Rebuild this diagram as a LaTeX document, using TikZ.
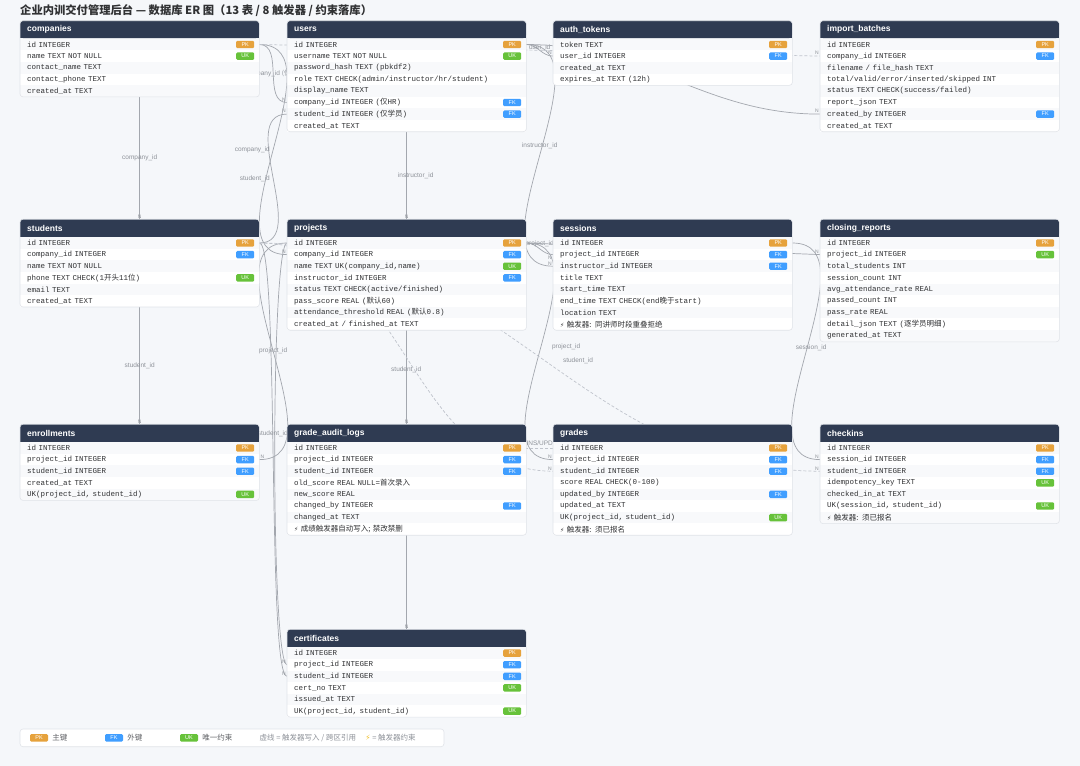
\documentclass[tikz,border=0pt]{standalone}
\usepackage{fontspec}
\setmainfont{Noto Sans CJK SC}
\setsansfont{Liberation Sans}
\setmonofont{Liberation Mono}
\newfontfamily\symfont{DejaVu Sans}
\usetikzlibrary{positioning, calc, backgrounds}

\definecolor{pagebg}{HTML}{F5F7FA}
\definecolor{headbg}{HTML}{2F3B52}
\definecolor{rowgray}{HTML}{F8F9FB}
\definecolor{framec}{HTML}{E1E4E9}
\definecolor{pkc}{HTML}{E6A23C}
\definecolor{fkc}{HTML}{409EFF}
\definecolor{ukc}{HTML}{67C23A}
\definecolor{linec}{HTML}{A3A7AE}
\definecolor{dashc}{HTML}{C0C4CC}
\definecolor{lblc}{HTML}{8E9299}
\definecolor{txtc}{HTML}{303133}
\definecolor{notec}{HTML}{606266}
\definecolor{boltc}{HTML}{F2C230}

\pgfdeclarelayer{paper}
\pgfsetlayers{paper,background,main}

\tikzset{
  tblhead/.style={anchor=north west, text=white, font=\sffamily\bfseries\fontsize{8.5}{10}\selectfont,
    minimum height=17.4pt, text width=225pt, inner xsep=7pt, inner ysep=0pt, align=left},
  fieldrow/.style={anchor=north west, minimum height=11.6pt, text width=225pt, inner xsep=7pt,
    inner ysep=0pt, align=left, text=txtc, font=\ttfamily\fontsize{7.5}{9}\selectfont},
  badge/.style={anchor=east, minimum width=18pt, minimum height=7.4pt, inner sep=0pt,
    rounded corners=1.2pt, text=white, font=\sffamily\fontsize{5.5}{6}\selectfont},
  tblframe/.style={draw=framec, line width=0.6pt, rounded corners=3pt},
  fkline/.style={draw=linec, line width=0.7pt},
  trigline/.style={draw=dashc, line width=0.7pt, dash pattern=on 3pt off 2pt},
  rel/.style={font=\sffamily\fontsize{6.5}{7.5}\selectfont, text=lblc, inner sep=1pt},
  cardN/.style={font=\sffamily\fontsize{5}{6}\selectfont, text=lblc, inner sep=0.8pt},
  lgkey/.style={font=\rmfamily\fontsize{7.5}{9}\selectfont, text=notec, inner sep=0pt},
  lgnote/.style={font=\rmfamily\fontsize{7.5}{9}\selectfont, text=lblc, inner sep=0pt},
}

% CJK inside the mono field rows
\newcommand\zh[1]{{\rmfamily #1}}
\newcommand\trig[1]{{\symfont\fontsize{6}{7}\selectfont\char"26A1}\ \zh{#1}}

% key badges, called by name from the row list
\newcommand\badgePK[1]{\node[badge, fill=pkc] (#1-key) at ([xshift=-5pt]#1.east) {PK};}
\newcommand\badgeFK[1]{\node[badge, fill=fkc] (#1-key) at ([xshift=-5pt]#1.east) {FK};}
\newcommand\badgeUK[1]{\node[badge, fill=ukc] (#1-key) at ([xshift=-5pt]#1.east) {UK};}
\newcommand\badgeno[1]{}

% table: name, x, y, title, rows (text/badge)
\newcommand\ertable[5]{%
  \fill[headbg, rounded corners=3pt] (#2,#3) rectangle ++(239,17.4);
  \fill[headbg] (#2,#3+8.7) rectangle ++(239,8.7);
  \node[tblhead] (#1) at (#2,#3) {#4};
  \foreach \txt/\bd [count=\i] in {#5} {
    \pgfmathtruncatemacro\odd{mod(\i,2)}
    \ifnum\odd=1 \def\rowfill{rowgray}\else\def\rowfill{white}\fi
    \node[fieldrow, fill=\rowfill] (#1-\i) at ($(#1.south west)+(0,{(\i-1)*11.6})$) {\txt};
    \csname badge\bd\endcsname{#1-\i}
    \xdef\lastrow{\i}
  }
  \draw[tblframe] (#1.north west) rectangle (#1-\lastrow.south east);
}

\begin{document}
\catcode`\_=12
\begin{tikzpicture}[x=1pt, y=-1pt]
  \useasboundingbox (0,0) rectangle (1080,766);
  \begin{pgfonlayer}{paper}
    \fill[pagebg] (0,0) rectangle (1080,766);
  \end{pgfonlayer}

  \node[anchor=west, inner sep=0pt, text=txtc, font=\rmfamily\bfseries\fontsize{11.3}{13}\selectfont] (title) at (20,10.3)
    {企业内训交付管理后台 — 数据库 ER 图（13 表 / 8 触发器 / 约束落库）};

  % row 1
  \ertable{companies}{20}{20.7}{companies}{id INTEGER/PK,name TEXT NOT NULL/UK,contact_name TEXT/no,contact_phone TEXT/no,created_at TEXT/no}
  \ertable{users}{287}{20.7}{users}{id INTEGER/PK,username TEXT NOT NULL/UK,password_hash TEXT (pbkdf2)/no,{role TEXT CHECK(admin/instructor/hr/student)}/no,display_name TEXT/no,company_id INTEGER (\zh{仅}HR)/FK,student_id INTEGER (\zh{仅学员})/FK,created_at TEXT/no}
  \ertable{auth_tokens}{553}{20.7}{auth_tokens}{token TEXT/PK,user_id INTEGER/FK,created_at TEXT/no,expires_at TEXT (12h)/no}
  \ertable{import_batches}{820}{20.7}{import_batches}{id INTEGER/PK,company_id INTEGER/FK,{filename / file_hash TEXT}/no,{total/valid/error/inserted/skipped INT}/no,{status TEXT CHECK(success/failed)}/no,report_json TEXT/no,created_by INTEGER/FK,created_at TEXT/no}

  % row 2
  \ertable{students}{20}{219.2}{students}{id INTEGER/PK,company_id INTEGER/FK,name TEXT NOT NULL/no,phone TEXT CHECK(1\zh{开头}11\zh{位})/UK,email TEXT/no,created_at TEXT/no}
  \ertable{projects}{287}{219.2}{projects}{id INTEGER/PK,company_id INTEGER/FK,{name TEXT UK(company_id,name)}/UK,instructor_id INTEGER/FK,{status TEXT CHECK(active/finished)}/no,pass_score REAL (\zh{默认}60)/no,attendance_threshold REAL (\zh{默认}0.8)/no,{created_at / finished_at TEXT}/no}
  \ertable{sessions}{553}{219.2}{sessions}{id INTEGER/PK,project_id INTEGER/FK,instructor_id INTEGER/FK,title TEXT/no,start_time TEXT/no,end_time TEXT CHECK(end\zh{晚于}start)/no,location TEXT/no,\trig{触发器: 同讲师时段重叠拒绝}/no}
  \ertable{closing_reports}{820}{219.2}{closing_reports}{id INTEGER/PK,project_id INTEGER/UK,total_students INT/no,session_count INT/no,avg_attendance_rate REAL/no,passed_count INT/no,pass_rate REAL/no,detail_json TEXT (\zh{逐学员明细})/no,generated_at TEXT/no}

  % row 3
  \ertable{enrollments}{20}{424.2}{enrollments}{id INTEGER/PK,project_id INTEGER/FK,student_id INTEGER/FK,created_at TEXT/no,{UK(project_id, student_id)}/UK}
  \ertable{grade_audit_logs}{287}{424.2}{grade_audit_logs}{id INTEGER/PK,project_id INTEGER/FK,student_id INTEGER/FK,old_score REAL NULL=\zh{首次录入}/no,new_score REAL/no,changed_by INTEGER/FK,changed_at TEXT/no,\trig{成绩触发器自动写入; 禁改禁删}/no}
  \ertable{grades}{553}{424.2}{grades}{id INTEGER/PK,project_id INTEGER/FK,student_id INTEGER/FK,score REAL CHECK(0-100)/no,updated_by INTEGER/FK,updated_at TEXT/no,{UK(project_id, student_id)}/UK,\trig{触发器: 须已报名}/no}
  \ertable{checkins}{820}{424.2}{checkins}{id INTEGER/PK,session_id INTEGER/FK,student_id INTEGER/FK,idempotency_key TEXT/UK,checked_in_at TEXT/no,{UK(session_id, student_id)}/UK,\trig{触发器: 须已报名}/no}

  % row 4
  \ertable{certificates}{287}{629.3}{certificates}{id INTEGER/PK,project_id INTEGER/FK,student_id INTEGER/FK,cert_no TEXT/UK,issued_at TEXT/no,{UK(project_id, student_id)}/UK}

  % relations, behind the tables
  \begin{pgfonlayer}{background}
    % straight drops
    \draw[fkline] (companies-5.south) -- node[rel] (lb-co-st) {company_id} node[cardN, at end, anchor=south] (nc-co-st) {N} (students.north);
    \draw[fkline] (students-6.south) -- node[rel] (lb-st-en) {student_id} node[cardN, at end, anchor=south] (nc-st-en) {N} (enrollments.north);
    \draw[fkline] (users-8.south) -- node[rel, xshift=9pt] (lb-us-pr) {instructor_id} node[cardN, at end, anchor=south] (nc-us-pr) {N} (projects.north);
    \draw[fkline] (projects-8.south) -- node[cardN, at end, anchor=south] (nc-pr-ga) {N} (grade_audit_logs.north);
    \draw[fkline] (grade_audit_logs-8.south) -- node[cardN, at end, anchor=south] (nc-ga-ce) {N} (certificates.north);

    % left gap
    \draw[fkline] (companies-1.east) to[out=0, in=180] node[rel] (lb-co-us) {company_id \zh{(仅HR)}} node[cardN, at end, anchor=south east] (nc-co-us) {N} (users-6.west);
    \draw[fkline] (students-1.east) to[out=0, in=180] node[rel, anchor=east, xshift=-2pt] (lb-st-us) {student_id} node[cardN, at end, anchor=south east] (nc-st-us) {N} (users-7.west);
    \draw[fkline] (companies-1.east) to[out=0, in=180] node[rel, anchor=east, xshift=-2pt] (lb-co-pr) {company_id} node[cardN, at end, anchor=south east] (nc-co-pr) {N} (projects-2.west);
    \draw[fkline] (projects-1.west) to[out=180, in=0] node[rel] (lb-pr-en) {project_id} node[cardN, at end, anchor=south west] (nc-pr-en) {N} (enrollments-2.east);
    \draw[fkline] (projects-1.west) to[out=185, in=175, looseness=0.1] node[cardN, at end, anchor=south east] (nc-pr-ce) {N} (certificates-2.west);
    \draw[fkline] (students-1.east) to[out=0, in=180, looseness=0.12] node[rel, pos=0.46] (lb-st-ce) {student_id} node[cardN, at end, anchor=south east] (nc-st-ce) {N} (certificates-3.west);

    % middle and right gaps
    \draw[fkline] (users-1.east) to[out=0, in=180] node[rel, yshift=3pt] (lb-us-au) {user_id} node[cardN, at end, anchor=south east] (nc-us-au) {N} (auth_tokens-2.west);
    \draw[fkline] (users-1.east) to[out=0, in=180] node[rel] (lb-us-ib) {created_by} node[cardN, at end, anchor=south east] (nc-us-ib) {N} (import_batches-7.west);
    \draw[fkline] (users-1.east) to[out=0, in=180] node[rel, yshift=10pt] (lb-us-se) {instructor_id} node[cardN, at end, anchor=south east] (nc-us-se) {N} (sessions-3.west);
    \draw[fkline] (projects-1.east) to[out=0, in=180] node[rel, yshift=5pt] (lb-pr-se) {project_id} node[cardN, at end, anchor=north east] (nc-pr-se) {N} (sessions-2.west);
    \draw[fkline] (projects-1.east) to[out=0, in=180] node[rel, anchor=west, xshift=11pt, yshift=4pt] (lb-pr-gr) {project_id} node[cardN, at end, anchor=south east] (nc-pr-gr) {N} (grades-2.west);
    \draw[fkline] (projects-1.east) -- node[rel] (lb-pr-cr) {project_id} node[cardN, at end, anchor=south east] (nc-pr-cr) {N} (closing_reports-2.west);
    \draw[fkline] (sessions-1.east) to[out=0, in=180] node[rel, xshift=5pt, yshift=4pt] (lb-se-ch) {session_id} node[cardN, at end, anchor=south east] (nc-se-ch) {N} (checkins-2.west);

    % trigger writes / cross references
    \draw[trigline] (companies-1.east) -- node[cardN, at end, anchor=south east] (nc-co-ib) {N} (import_batches-2.west);
    \draw[trigline] (students-1.east) to[out=0, in=180] node[rel, anchor=north, yshift=-8pt] (lb-st-gr) {student_id} node[cardN, at end, anchor=south east] (nc-st-gr) {N} (grades-3.west);
    \draw[trigline] (students-1.east) to[out=0, in=180] node[rel, anchor=west, xshift=22pt, yshift=-4pt] (lb-st-ch) {student_id} node[cardN, at end, anchor=south east] (nc-st-ch) {N} (checkins-3.west);
    \draw[trigline] (grades-1.west) -- node[rel, above=1pt] (lb-gr-ga) {INS/UPD} (grade_audit_logs-1.east);
  \end{pgfonlayer}

  % legend
  \draw[fill=white, draw=framec, line width=0.6pt, rounded corners=3pt] (20,729) rectangle (444,746.7);
  \node[badge, fill=pkc, anchor=center] (lg-pk) at (39,737.8) {PK};
  \node[lgkey, right=4pt of lg-pk] (lg-pk-txt) {主键};
  \node[badge, fill=fkc, anchor=center] (lg-fk) at (114,737.8) {FK};
  \node[lgkey, right=4pt of lg-fk] (lg-fk-txt) {外键};
  \node[badge, fill=ukc, anchor=center] (lg-uk) at (189,737.8) {UK};
  \node[lgkey, right=4pt of lg-uk] (lg-uk-txt) {唯一约束};
  \node[lgnote, anchor=west] (lg-dash) at (259.5,737.8) {虚线 = 触发器写入 / 跨区引用};
  \node[lgnote, right=9pt of lg-dash] (lg-bolt) {{\color{boltc}\symfont\char"26A1}\ = 触发器约束};
\end{tikzpicture}
\end{document}
